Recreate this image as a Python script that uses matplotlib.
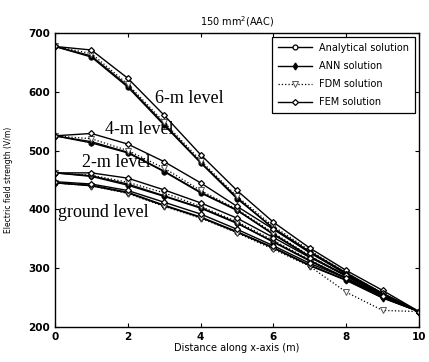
import numpy as np
import matplotlib
matplotlib.use('Agg')
import matplotlib.pyplot as plt

x = [0, 1, 2, 3, 4, 5, 6, 7, 8, 9, 10]

# 6-m level
an_6 = [677, 659, 608, 543, 479, 418, 368, 328, 292, 257, 226]
ann_6 = [677, 661, 610, 545, 480, 420, 367, 327, 290, 256, 226]
fdm_6 = [677, 665, 613, 548, 483, 422, 371, 330, 292, 257, 226]
fem_6 = [677, 671, 623, 560, 493, 432, 378, 334, 296, 262, 226]
# 4-m level
an_4 = [525, 513, 496, 464, 428, 398, 358, 320, 287, 254, 226]
ann_4 = [525, 515, 497, 465, 429, 399, 357, 319, 286, 253, 226]
fdm_4 = [525, 520, 500, 470, 432, 400, 360, 321, 287, 254, 226]
fem_4 = [525, 529, 511, 481, 445, 405, 366, 326, 290, 257, 226]
# 2-m level
an_2 = [462, 456, 441, 422, 402, 376, 345, 313, 283, 251, 226]
ann_2 = [462, 457, 443, 423, 403, 377, 344, 312, 282, 250, 226]
fdm_2 = [462, 458, 446, 428, 405, 379, 347, 314, 283, 251, 226]
fem_2 = [462, 462, 453, 433, 411, 385, 352, 318, 288, 255, 226]
# ground level
an_0 = [445, 441, 429, 407, 387, 362, 335, 305, 280, 250, 226]
ann_0 = [445, 440, 428, 406, 386, 361, 334, 304, 279, 249, 226]
fdm_0 = [445, 440, 427, 405, 385, 360, 332, 303, 259, 228, 226]
fem_0 = [447, 443, 432, 412, 392, 366, 338, 308, 283, 252, 226]

levels = [(an_6, ann_6, fdm_6, fem_6), (an_4, ann_4, fdm_4, fem_4),
          (an_2, ann_2, fdm_2, fem_2), (an_0, ann_0, fdm_0, fem_0)]
level_text = ['6-m level', '4-m level', '2-m level', 'ground level']
text_pos = [(2.75, 589), (1.37, 535), (0.74, 479), (0.08, 394)]

fig = plt.figure(figsize=(4.29, 3.62), dpi=100)
ax = fig.add_axes([0.128, 0.097, 0.849, 0.812])

for i, (an, ann, fdm, fem) in enumerate(levels):
    lab = i == 0
    ax.plot(x, an, '-', color='k', lw=1.0, marker='o', ms=3.5, mfc='white', mec='k', mew=0.9,
            label='Analytical solution' if lab else None)
    ax.plot(x, ann, '-', color='k', lw=1.0, marker='d', ms=3.5, mfc='k', mec='k',
            label='ANN solution' if lab else None)
    ax.plot(x, fdm, ':', color='k', lw=0.9, marker='v', ms=4, mfc='white', mec='#555555', mew=0.7,
            label='FDM solution' if lab else None)
    ax.plot(x, fem, '-', color='k', lw=1.0, marker='D', ms=3, mfc='white', mec='k', mew=0.9,
            label='FEM solution' if lab else None)

for t, (tx, ty) in zip(level_text, text_pos):
    ax.text(tx, ty, t, family='Liberation Serif', fontsize=13, va='center', ha='left')

ax.set_xlim(0, 10)
ax.set_ylim(200, 700)
ax.set_xticks([0, 2, 4, 6, 8, 10])
ax.set_yticks([200, 300, 400, 500, 600, 700])
ax.tick_params(direction='in', top=True, right=True, labelsize=7.5, length=3, width=0.8)
for lbl in ax.get_xticklabels() + ax.get_yticklabels():
    lbl.set_fontweight('bold')
for s in ax.spines.values():
    s.set_linewidth(1.0)

ax.set_xlabel('Distance along x-axis (m)', fontsize=7, labelpad=1)
ax.set_ylabel('Electric field strength (V/m)', fontsize=5.5, labelpad=11)
ax.set_title('150 mm$^2$(AAC)', fontsize=7, pad=5)

leg = ax.legend(loc='upper right', fontsize=7, fancybox=False, edgecolor='k',
                framealpha=1, handlelength=3.5, borderpad=0.6, labelspacing=0.85,
                borderaxespad=0.4)
leg.get_frame().set_linewidth(0.9)

fig.savefig('out.png', dpi=100)
